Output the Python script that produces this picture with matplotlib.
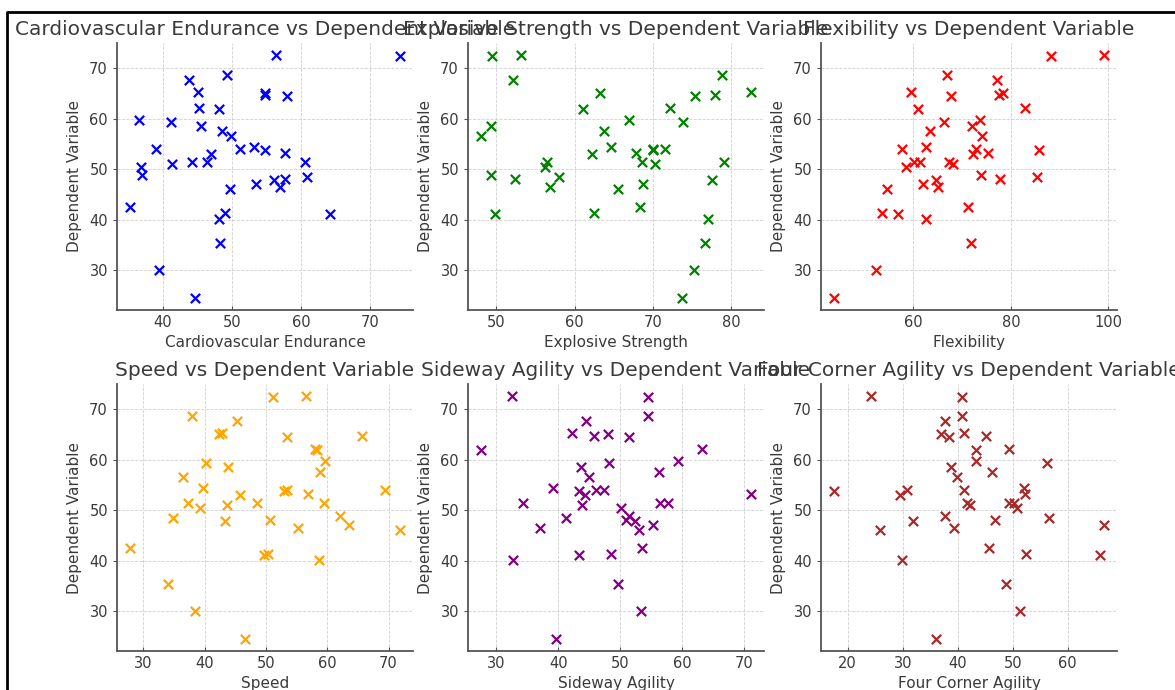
import matplotlib
matplotlib.use("Agg")
import matplotlib.pyplot as plt
from matplotlib.lines import Line2D

# dependent variable (same for every panel)
dependent = [72.6, 72.4, 68.6, 67.6, 65.2, 65.0, 64.7, 64.5, 62.2, 61.9,
             59.7, 59.4, 58.6, 57.6, 56.5, 54.4, 54.0, 54.0, 53.8, 53.3,
             53.1, 51.5, 51.4, 51.4, 51.1, 50.4, 48.9, 48.4, 48.1, 47.8,
             47.0, 46.5, 46.1, 42.5, 41.4, 41.1, 40.1, 35.4, 30.1, 24.5]

cardio = [56.3, 74.2, 49.2, 43.7, 45.1, 54.7, 54.8, 57.9, 45.2, 48.1,
          36.6, 41.2, 45.5, 48.5, 49.9, 53.1, 39.0, 51.2, 54.7, 57.7,
          47.0, 60.6, 44.2, 46.4, 41.3, 36.8, 36.9, 60.8, 57.7, 56.0,
          53.5, 56.9, 49.7, 35.3, 48.9, 64.1, 48.1, 48.2, 39.4, 44.7]

explosive = [53.1, 49.4, 78.9, 52.1, 82.5, 63.3, 78.0, 75.4, 72.2, 61.1,
             66.9, 73.9, 49.3, 63.8, 48.1, 64.7, 70.0, 71.6, 70.0, 67.9,
             62.2, 79.1, 68.6, 56.5, 70.3, 56.2, 49.3, 58.0, 52.4, 77.6,
             68.8, 56.8, 65.6, 68.4, 62.5, 49.8, 77.1, 76.7, 75.3, 73.8]

flexibility = [99.0, 88.2, 66.8, 77.1, 59.5, 78.3, 77.6, 67.7, 82.8, 60.9,
               73.7, 66.3, 72.0, 63.3, 74.1, 62.6, 57.7, 72.8, 85.8, 75.2,
               72.3, 67.2, 60.1, 61.4, 68.1, 58.5, 73.8, 85.3, 77.8, 64.6,
               61.9, 65.1, 54.6, 71.1, 53.5, 56.9, 62.5, 71.8, 52.3, 43.8]

speed = [56.5, 51.2, 38.0, 45.3, 42.8, 42.3, 65.6, 53.4, 58.0, 58.4,
         59.7, 40.2, 43.8, 58.8, 36.5, 39.8, 69.5, 53.4, 52.9, 56.9,
         45.7, 48.5, 59.4, 37.3, 43.6, 39.2, 62.1, 34.8, 50.7, 43.3,
         63.5, 55.3, 71.8, 27.9, 50.4, 49.7, 58.6, 34.1, 38.4, 46.6]

sideway = [32.5, 54.6, 54.5, 44.5, 42.2, 48.0, 45.8, 51.4, 63.3, 27.6,
           59.4, 48.2, 43.7, 56.3, 45.0, 39.1, 46.1, 47.4, 43.4, 71.1,
           44.3, 56.4, 57.7, 34.3, 43.9, 50.2, 51.5, 41.2, 50.9, 52.5,
           55.4, 37.1, 53.0, 53.6, 48.5, 43.4, 32.7, 49.7, 53.4, 39.7]

four_corner = [24.3, 40.7, 40.8, 37.7, 41.1, 36.9, 45.2, 38.5, 49.3, 43.4,
               43.4, 56.3, 38.8, 46.3, 39.9, 52.1, 30.7, 41.2, 17.6, 52.3,
               29.5, 49.3, 50.3, 41.6, 42.2, 50.8, 37.6, 56.5, 46.7, 31.9,
               66.5, 39.4, 25.8, 45.6, 52.4, 65.8, 29.8, 48.7, 51.3, 36.1]

names = ["Cardiovascular Endurance", "Explosive Strength", "Flexibility",
         "Speed", "Sideway Agility", "Four Corner Agility"]
features = [cardio, explosive, flexibility, speed, sideway, four_corner]
colors = ["blue", "green", "red", "orange", "purple", "brown"]

text_col = "#3a3a3a"
fig = plt.figure(figsize=(11.75, 6.9), dpi=100)

lefts = [117, 468, 821]
tops = [43, 384]
w, h = 296, 267

for i, (name, xs, c) in enumerate(zip(names, features, colors)):
    r, col = divmod(i, 3)
    ax = fig.add_axes([lefts[col] / 1175, 1 - (tops[r] + h) / 690, w / 1175, h / 690])
    ax.scatter(xs, dependent, marker="x", color=c, s=45, linewidths=1.6, zorder=3)
    ax.set_title(f"{name} vs Dependent Variable", fontsize=14.5, color=text_col)
    ax.set_xlabel(name, fontsize=11, color=text_col)
    ax.set_ylabel("Dependent Variable", fontsize=11, color=text_col, labelpad=5)
    ax.grid(True, linestyle="--", linewidth=0.6, color="#d0d0d0")
    ax.set_axisbelow(True)
    for s in ["top", "right"]:
        ax.spines[s].set_visible(False)
    for s in ["left", "bottom"]:
        ax.spines[s].set_color("#555555")
        ax.spines[s].set_linewidth(1.3)
    ax.tick_params(axis="both", labelsize=10.5, colors="#555555", labelcolor=text_col, length=3)
    ax.tick_params(axis="x", direction="in")
    ax.set_yticks([30, 40, 50, 60, 70])

# frame from the screenshot
fig.add_artist(Line2D([7 / 1175, 7 / 1175, 1], [0, 1 - 12 / 690, 1 - 12 / 690],
                      transform=fig.transFigure, color="black", linewidth=2))

fig.savefig("out.png", dpi=100)
